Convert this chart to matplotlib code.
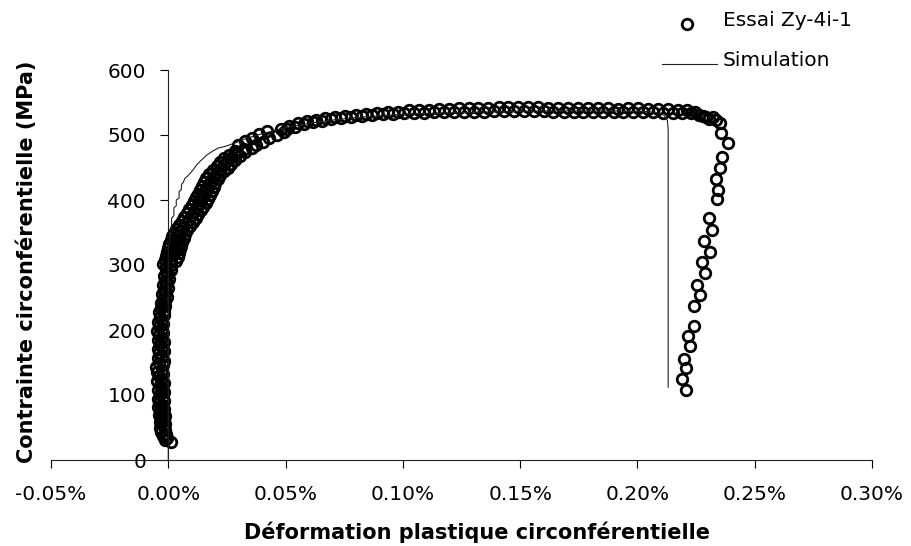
import matplotlib
matplotlib.use('agg')
import matplotlib.pyplot as plt
from matplotlib.lines import Line2D

plt.rcParams['font.family'] = ['DejaVu Sans']

# essai (strain in %, stress in MPa)
strain_test = [
    # bottom, near zero strain
    0.0010, -0.0014, -0.0004, -0.0024, -0.0010, -0.0030, -0.0016, -0.0034, -0.0020, -0.0012,
    -0.0036, -0.0018, -0.0030, -0.0014, -0.0040, -0.0024, -0.0036, -0.0019, -0.0044, -0.0026,
    -0.0038, -0.0020, -0.0045, -0.0023, -0.0036, -0.0019, -0.0044, -0.0025, -0.0037, -0.0020,
    -0.0046, -0.0026, -0.0038, -0.0021, -0.0047, -0.0027, -0.0052, -0.0024, -0.0040, -0.0020,
    -0.0045, -0.0026, -0.0038, -0.0019, -0.0044, -0.0025, -0.0037, -0.0020, -0.0045, -0.0026,
    -0.0038, -0.0021, -0.0046, -0.0027, -0.0039, -0.0022, -0.0045, -0.0025, -0.0036, -0.0018,
    -0.0040, -0.0020, -0.0032, -0.0013, -0.0032, -0.0012, -0.0024, -0.0006, -0.0028, -0.0010,
    -0.0020, -0.0002, -0.0024, -0.0006, -0.0016, 0.0002, -0.0018, 0.0000, -0.0008, 0.0010,
    -0.0008, 0.0012,
    # rise
    -0.0021, 0.0007, 0.0034, -0.0016, 0.0012, 0.0040, -0.0011, 0.0017, 0.0045, -0.0006,
    0.0022, 0.0050, -0.0001, 0.0027, 0.0055, 0.0005, 0.0033, 0.0060, 0.0010, 0.0038,
    0.0066, 0.0017, 0.0045, 0.0073, 0.0024, 0.0052, 0.0080, 0.0031, 0.0062, 0.0092,
    0.0045, 0.0075, 0.0106, 0.0057, 0.0087, 0.0117, 0.0068, 0.0098, 0.0127, 0.0079,
    0.0109, 0.0138, 0.0090, 0.0119, 0.0149, 0.0100, 0.0130, 0.0159, 0.0111, 0.0140,
    0.0169, 0.0119, 0.0148, 0.0177, 0.0127, 0.0156, 0.0185, 0.0135, 0.0164, 0.0193,
    0.0143, 0.0172, 0.0201, 0.0151, 0.0180, 0.0210, 0.0162, 0.0192, 0.0222, 0.0174,
    0.0206, 0.0237, 0.0191, 0.0222, 0.0254, 0.0207, 0.0238, 0.0268, 0.0221, 0.0252,
    0.0285, 0.0239, 0.0272, 0.0304, 0.0259, 0.0294, 0.0329, 0.0286, 0.0321, 0.0356,
    0.0297, 0.0375, 0.0325, 0.0403, 0.0355, 0.0431, 0.0387, 0.0463, 0.0421, 0.0495,
    0.0480, 0.0505, 0.0515, 0.0540, 0.0552, 0.0578, 0.0590, 0.0615, 0.0630, 0.0655,
    0.0670, 0.0695, 0.0712, 0.0738, 0.0755, 0.0780, 0.0800, 0.0825, 0.0845, 0.0870,
    0.0890, 0.0915, 0.0935, 0.0960, 0.0980,
    # plateau
    0.1005, 0.1025, 0.1048, 0.1068, 0.1090, 0.1110, 0.1132, 0.1152, 0.1175, 0.1195,
    0.1218, 0.1238, 0.1260, 0.1280, 0.1302, 0.1322, 0.1345, 0.1365, 0.1388, 0.1408,
    0.1430, 0.1450, 0.1472, 0.1492, 0.1515, 0.1535, 0.1558, 0.1578, 0.1600, 0.1620,
    0.1642, 0.1662, 0.1685, 0.1705, 0.1728, 0.1748, 0.1770, 0.1790, 0.1812, 0.1832,
    0.1855, 0.1875, 0.1898, 0.1918, 0.1940, 0.1960, 0.1982, 0.2002, 0.2025, 0.2045,
    0.2068, 0.2088, 0.2110, 0.2130, 0.2152, 0.2172, 0.2192, 0.2210, 0.2228, 0.2245,
    0.2262, 0.2278, 0.2292, 0.2306, 0.2322, 0.2334, 0.2350,
    # unloading tail
    0.2356, 0.2387, 0.2359, 0.2352, 0.2335, 0.2344, 0.2338, 0.2305, 0.2320, 0.2285,
    0.2309, 0.2274, 0.2288, 0.2252, 0.2266, 0.2241, 0.2241, 0.2216, 0.2224, 0.2198,
    0.2209, 0.2188, 0.2205,
]
stress_test = [
    28, 31, 34, 37, 40, 43, 46, 49, 52, 55,
    58, 61, 64, 67, 70, 73, 76, 79, 82, 85,
    88, 91, 94, 97, 101, 104, 108, 111, 115, 118,
    122, 125, 129, 132, 136, 139, 143, 146, 150, 153,
    157, 160, 164, 167, 171, 174, 178, 181, 185, 188,
    192, 195, 199, 202, 206, 209, 213, 216, 220, 223,
    227, 230, 234, 237, 241, 244, 248, 251, 255, 258,
    262, 265, 269, 272, 276, 279, 283, 286, 290, 293,
    297, 300,
    302, 304, 306, 308, 310, 312, 314, 316, 318, 320,
    322, 324, 326, 328, 330, 332, 334, 336, 338, 340,
    342, 344, 346, 348, 350, 352, 354, 356, 358, 360,
    362, 364, 366, 368, 370, 372, 374, 376, 378, 380,
    382, 384, 386, 388, 390, 392, 394, 396, 398, 400,
    402, 404, 406, 408, 410, 412, 414, 416, 418, 420,
    422, 424, 426, 428, 430, 432, 434, 436, 438, 440,
    442, 444, 446, 448, 450, 452, 454, 456, 458, 460,
    462, 464, 466, 468, 470, 472, 474, 476, 478, 480,
    485, 484, 491, 490, 496, 495, 501, 500, 506, 505,
    510, 509, 514, 513, 518, 517, 521, 520, 523, 522,
    526, 524, 528, 526, 529, 528, 531, 529, 532, 531,
    534, 532, 535, 533, 536,
    534, 539, 534, 539, 534, 539, 535, 540, 535, 540,
    535, 541, 535, 541, 536, 542, 536, 542, 537, 543,
    537, 543, 537, 543, 537, 543, 537, 543, 537, 542,
    536, 542, 536, 542, 536, 541, 535, 541, 535, 541,
    535, 541, 535, 540, 535, 541, 535, 541, 535, 540,
    535, 540, 534, 540, 534, 539, 534, 539, 534, 535,
    531, 529, 527, 525, 527, 523, 518,
    503, 487, 466, 450, 432, 416, 401, 373, 354, 337,
    320, 304, 288, 270, 254, 237, 206, 191, 175, 156,
    141, 125, 108,
]

# simulation
strain_sim = [0, 0, 0.0006, 0.0006, 0.0014, 0.0014, 0.0024, 0.0024, 0.0034, 0.0034,
              0.0046, 0.0046, 0.0056, 0.0056, 0.0064, 0.0070, 0.0080, 0.0093, 0.0105, 0.0121,
              0.0140, 0.0164, 0.0188, 0.0213, 0.0238, 0.0263, 0.0300, 0.0334, 0.040, 0.050,
              0.060, 0.070, 0.080, 0.100, 0.130, 0.160, 0.190, 0.205, 0.209, 0.2115,
              0.2128, 0.2131, 0.2131]
stress_sim = [0, 330, 334, 352, 356, 372, 376, 388, 391, 400,
              403, 413, 416, 424, 427, 433, 436, 441, 446, 454,
              461, 469, 475, 480, 482, 485, 490, 495, 502, 511,
              518, 523, 527, 532, 535, 537, 537, 536, 534, 530,
              522, 508, 112]

x_ticks = [-0.05, 0.00, 0.05, 0.10, 0.15, 0.20, 0.25, 0.30]
x_ticklabels = ['-0.05%', '0.00%', '0.05%', '0.10%', '0.15%', '0.20%', '0.25%', '0.30%']
y_ticks = [0, 100, 200, 300, 400, 500, 600]

W, H = 911, 546
fig = plt.figure(figsize=(W / 100, H / 100), dpi=100)
ax = fig.add_axes([51 / W, 1 - 460 / H, 821 / W, 390 / H])

ax.plot(strain_test, stress_test, 'o', ms=7.6, mfc='none', mec='black', mew=2.0,
        clip_on=False, zorder=3)
ax.plot(strain_sim, stress_sim, '-', color='#222222', lw=0.8, zorder=4)

ax.set_xlim(-0.05, 0.30)
ax.set_ylim(0, 600)
ax.spines['left'].set_position(('data', 0))
ax.spines['top'].set_visible(False)
ax.spines['right'].set_visible(False)
for s in ['left', 'bottom']:
    ax.spines[s].set_linewidth(0.8)
    ax.spines[s].set_color('#222222')

ax.set_xticks(x_ticks)
ax.set_xticklabels(x_ticklabels)
ax.set_yticks(y_ticks)
ax.tick_params(axis='x', direction='out', length=6, width=0.8, pad=12, labelsize=14.5)
ax.tick_params(axis='y', direction='out', length=6, width=0.8, pad=10, labelsize=14.5)

fig.text(477 / W, 1 - 532 / H, 'Déformation plastique circonférentielle',
         ha='center', va='center', fontsize=15, fontweight='bold')
fig.text(27 / W, 1 - 262 / H, 'Contrainte circonférentielle (MPa)',
         ha='center', va='center', rotation=90, fontsize=15, fontweight='bold')

# legend
fig.add_artist(Line2D([687 / W], [1 - 24 / H], marker='o', ms=7.6, mfc='none', mec='black',
                      mew=2.0, transform=fig.transFigure))
fig.add_artist(Line2D([662 / W, 717 / W], [1 - 64 / H, 1 - 64 / H], color='#222222', lw=0.8,
                      transform=fig.transFigure))
fig.text(723 / W, 1 - 20 / H, 'Essai Zy-4i-1', ha='left', va='center', fontsize=14.5)
fig.text(723 / W, 1 - 61 / H, 'Simulation', ha='left', va='center', fontsize=14.5)

fig.savefig('out.png', dpi=100)
